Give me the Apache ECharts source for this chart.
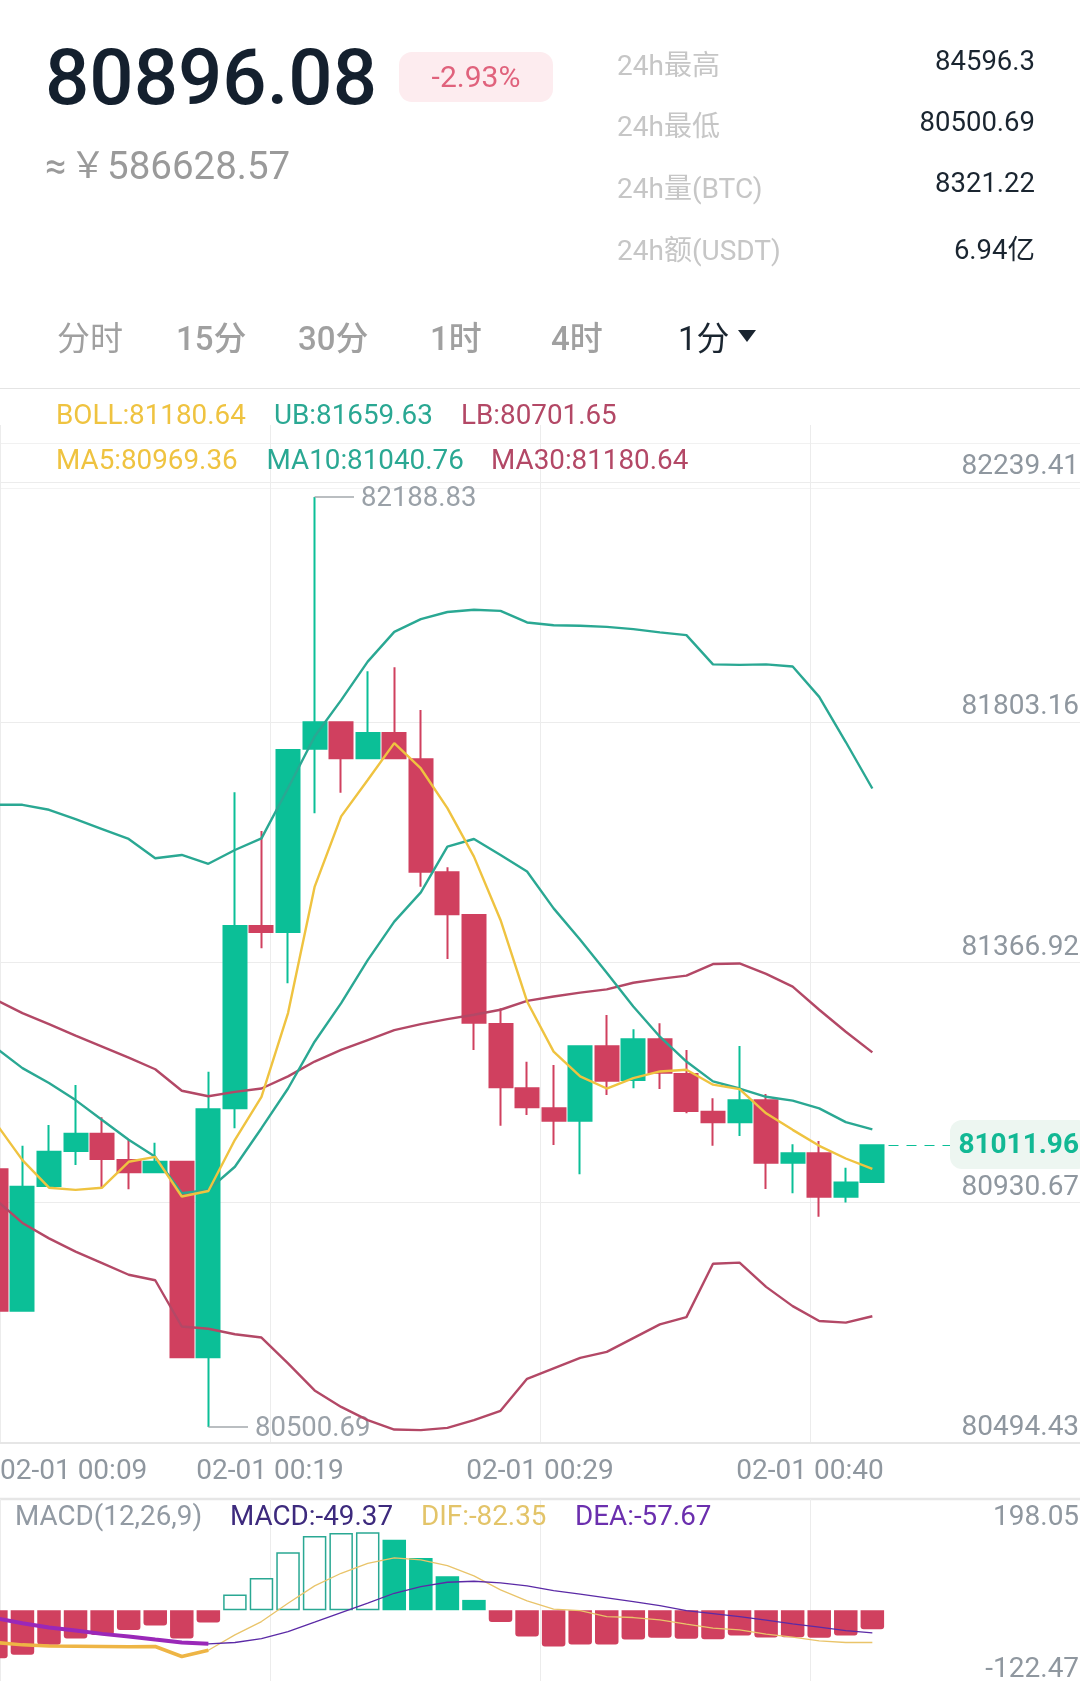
<!DOCTYPE html>
<html>
<head>
<meta charset="utf-8">
<title>BTC 1分</title>
<style>
html, body { margin: 0; padding: 0; background: #fff; }
#chart { width: 1080px; height: 1681px; }
</style>
<script src="https://cdn.jsdelivr.net/npm/echarts@6/dist/echarts.min.js"></script>
</head>
<body>
<div id="chart"></div>
<script>
var FONT = 'Roboto, "Noto Sans CJK SC", sans-serif';

var categories = ['00:09','00:10','00:11','00:12','00:13','00:14','00:15','00:16','00:17','00:18','00:19','00:20','00:21','00:22',
    '00:23','00:24','00:25','00:26','00:27','00:28','00:29','00:30','00:31','00:32','00:33','00:34','00:35','00:36','00:37','00:38',
    '00:39','00:40','00:41','00:42','00:43','00:44','00:45','00:46','00:47','00:48','00:49','00:50'];

var timeLabels = ['02-01 00:09', '02-01 00:19', '02-01 00:29', '02-01 00:40', ''];
var priceTicks = [80494.43, 80930.67, 81366.92, 81803.16, 82239.41];
var macdTicks = [-122.47, 198.05];

// K线
var opens = [80968.5, 80711.8, 80938.2, 81001.7, 81033.1, 80985.4, 80963, 80982.3, 80627.2, 81079.2, 81410.1, 81399.2, 81732, 81779.9, 81714.5, 81760.5, 81712.7,
    81507.6, 81430.1, 81232.2, 81115.5, 81079.2, 81056.7, 81191.7, 81130.6, 81204.5, 81141.5, 81073, 81053.8, 81093.7, 80980.5, 80997.5, 80918.7, 80945.4];
var closes = [80711.8, 80936.9, 81000.4, 81033.1, 80987.2, 80963, 80982.3, 80627.2, 81077.4, 81410.1, 81399.2, 81729.6, 81779.9, 81714.5, 81760.5, 81714.5, 81508.7,
    81431.4, 81234.6, 81117.3, 81081, 81056.7, 81191.7, 81129.3, 81204.5, 81143.8, 81074.3, 81053.8, 81093.7, 80980.5, 80997.5, 80918.7, 80944.2, 81011.96];
var lows = [80711.8, 80711.8, 80938.2, 80976.3, 80935.8, 80932.2, 80963, 80627.2, 80500.69, 81042.9, 81369.6, 81306.1, 81614.7, 81652.1, 81714.5, 81714.5, 81481.5,
    81350.2, 81185, 81047.6, 81067, 81012.6, 80959.4, 81103.3, 81115.5, 81114.2, 81070.1, 81011.3, 81028.9, 80932.7, 80924.9, 80882.4, 80907.9, 80945.4];
var highs = [80968.5, 81011.3, 81048.9, 81121.5, 81062.9, 81022.9, 81016.8, 80982.3, 81145.6, 81652.8, 81582.6, 81729.6, 82188.83, 81779.9, 81872.5, 81879.7, 81802.2,
    81516.7, 81430.1, 81260.7, 81163.8, 81157.8, 81191.7, 81248.6, 81222.6, 81233.5, 81185, 81097.4, 81192.3, 81105.2, 81013.9, 81019.8, 80971.4, 81011.96];

// 均线和布林带
var ma5 = [81052, 80985, 80935, 80931, 80935, 80982, 80991, 80919, 80929, 81022, 81100, 81252, 81481, 81609, 81675, 81742, 81696,
    81624, 81536, 81421, 81273, 81182, 81137, 81115, 81134, 81146, 81149, 81122, 81114, 81070, 81040, 81011, 80988, 80969.36];
var ma10 = [81189, 81152, 81125, 81094, 81058, 81022, 80991, 80925, 80931, 80973, 81043, 81115, 81200, 81270, 81348, 81418, 81471,
    81554, 81568, 81539, 81509, 81442, 81385, 81325, 81264, 81209, 81164, 81128, 81115, 81100, 81093, 81079, 81054, 81040.76];
var ma30 = [81276, 81252, 81232, 81211, 81191, 81171, 81150, 81111, 81101, 81109, 81115, 81137, 81164, 81185, 81203, 81221, 81232,
    81241, 81249, 81258, 81274, 81282, 81289, 81295, 81307, 81314, 81320, 81341, 81342, 81323, 81300, 81258, 81218, 81180.64];
var upperBand = [81630, 81630, 81621, 81604, 81586, 81568, 81533, 81539, 81523, 81548, 81569, 81660, 81754, 81820, 81890, 81944, 81967,
    81980, 81984, 81982, 81961, 81956, 81955, 81953, 81949, 81943, 81938, 81885, 81884, 81885, 81881, 81826, 81744, 81659.63];
var lowerBand = [80913, 80871, 80843, 80819, 80798, 80777, 80767, 80683, 80679, 80669, 80663, 80616, 80567, 80537, 80513, 80496, 80495,
    80499, 80513, 80530, 80588, 80607, 80626, 80637, 80662, 80687, 80700, 80797, 80799, 80755, 80720, 80693, 80690, 80701.65];

// MACD
var macdBars = [-85.4, -79.5, -61.7, -50.4, -43.9, -35, -27.3, -50.4, -21.9, 27.9, 57.5, 103.2, 132.2, 137.6, 138.8, 125.7, 93.1,
    60.5, 18.4, -20.8, -46.8, -64.6, -61.1, -61.1, -52.2, -49.2, -51, -51.6, -45.1, -48.6, -48, -49.2, -45.1, -33.8];
var difLine = [-57.5, -61.7, -63.5, -64, -64.6, -65.2, -64.6, -82.4, -71.2, -43.9, -20.2, 12.5, 43.3, 65.8, 83.6, 93.1, 89.5,
    79.5, 61.1, 36.2, 16.6, 1.8, -0.6, -11.3, -13, -17.2, -24.9, -32, -35, -42.7, -48, -54.6, -57.5, -57.5];
var deaLine = [-14.2, -23.1, -30.8, -36.2, -42.1, -46.8, -52.2, -57.5, -59.9, -57.5, -50.4, -38, -21.3, -4.2, 12.5, 30.2, 42.1,
    49.8, 51.6, 48.6, 43.3, 35, 28.5, 21.9, 15.4, 8.3, -0.6, -5.9, -11.3, -17.8, -24.3, -30.2, -36.2, -40.3];

var GREEN = '#0bbf97';
var RED = '#d0405f';
var LINE_GREEN = '#2aa893';
var LINE_RED = '#b34866';
var YELLOW = '#efc340';
var GRID = '#ececec';
var AXIS_TEXT = '#8f979f';

var lastPrice = closes[closes.length - 1];
var highest = Math.max.apply(Math, highs);
var lowest = Math.min.apply(Math, lows);

/*
  文字，全部放到画布上
 */
var txt = function(x, y, text, color, size, align, weight) {
    return {
        type: 'text',
        silent: true,
        z: 100,
        style: {
            x: x,
            y: y + size * 0.12,
            text: text,
            fill: color,
            font: (weight || 400) + ' ' + size + 'px ' + FONT,
            textAlign: align || 'left',
            textVerticalAlign: 'middle'
        }
    };
};

var rule = function(y, color, width) {
    return {
        type: 'line',
        silent: true,
        shape: { x1: 0, y1: y, x2: 1080, y2: y },
        style: { stroke: color, lineWidth: width }
    };
};

var graphics = [
    rule(388.5, '#e4e4e4', 1),
    rule(443.5, '#f1f1f1', 1),
    rule(488.5, '#f3f3f3', 1),
    rule(1499, '#e6e6e6', 2.5),
    txt(45, 75, '80896.08', '#14202e', 78, 'left', 500),
    {
        type: 'rect',
        silent: true,
        shape: { x: 399, y: 52, width: 154, height: 50, r: 13 },
        style: { fill: '#fdecef' }
    },
    txt(476, 76, '-2.93%', '#e0627c', 30, 'center'),
    txt(45, 165, '≈', '#9a9a9a', 38),
    txt(70, 165, '￥', '#9a9a9a', 36),
    txt(107, 165, '586628.57', '#9a9a9a', 38.5),

    txt(617, 65, '24h最高', '#c6c6c6', 28),
    txt(617, 126, '24h最低', '#c6c6c6', 28),
    txt(617, 188, '24h量(BTC)', '#c6c6c6', 28),
    txt(617, 250, '24h额(USDT)', '#c6c6c6', 28),
    txt(1035, 60, '84596.3', '#1a2530', 27.5, 'right'),
    txt(1035, 121, '80500.69', '#1a2530', 27.5, 'right'),
    txt(1035, 182, '8321.22', '#1a2530', 27.5, 'right'),
    txt(1035, 249, '6.94亿', '#1a2530', 27.5, 'right'),

    txt(57, 338, '分时', '#a0a0a0', 33),
    txt(176, 338, '15分', '#a0a0a0', 33, 'left', 500),
    txt(298, 338, '30分', '#a0a0a0', 33, 'left', 500),
    txt(430, 338, '1时', '#a0a0a0', 33, 'left', 500),
    txt(551, 338, '4时', '#a0a0a0', 33, 'left', 500),
    txt(678, 338, '1分', '#1a2530', 33),
    {
        type: 'polygon',
        silent: true,
        shape: { points: [[738, 330], [756, 330], [747, 342]] },
        style: { fill: '#1a2530' }
    },

    txt(56, 414, 'BOLL:81180.64', YELLOW, 27.8),
    txt(274, 414, 'UB:81659.63', LINE_GREEN, 27.8),
    txt(461, 414, 'LB:80701.65', LINE_RED, 27.8),
    txt(56, 459, 'MA5:80969.36', YELLOW, 27.8),
    txt(266.5, 459, 'MA10:81040.76', LINE_GREEN, 27.8),
    txt(491, 459, 'MA30:81180.64', LINE_RED, 27.8),

    {
        type: 'rect',
        silent: true,
        z: 99,
        shape: { x: 950, y: 1120, width: 140, height: 49, r: 12 },
        style: { fill: '#edf6f1' }
    },
    txt(1079, 1143, String(lastPrice), '#12b894', 28, 'right', 700),

    txt(15, 1515, 'MACD(12,26,9)', '#929aa3', 27.8),
    txt(230, 1515, 'MACD:-49.37', '#3d2a7d', 27.8),
    txt(421, 1515, 'DIF:-82.35', '#e3c469', 27.8),
    txt(575, 1515, 'DEA:-57.67', '#6b2fae', 27.8)
];

var lineSeries = function(name, data, color, width, xIndex, yIndex) {
    return {
        name: name,
        type: 'line',
        data: data,
        xAxisIndex: xIndex,
        yAxisIndex: yIndex,
        symbol: 'none',
        clip: false,
        silent: true,
        lineStyle: { color: color, width: width },
        z: 5
    };
};

var macdItems = macdBars.map(function(v, i) {
    // 上涨的红柱是空心的
    var hollow = v > 0 && (i === 0 || v >= macdBars[i - 1]);
    var color = v < 0 ? RED : GREEN;
    return {
        value: v,
        itemStyle: hollow ? {
            color: '#fff',
            borderColor: LINE_GREEN,
            borderWidth: 1.5
        } : {
            color: color,
            borderRadius: v < 0 ? [0, 0, 3, 3] : 0
        }
    };
});

var candleData = opens.map(function(o, i) {
    return [o, closes[i], lows[i], highs[i]];
});

var extremeLine = function(index, value, endX) {
    return [{
        xAxis: index,
        yAxis: value
    }, {
        x: endX,
        yAxis: value,
        lineStyle: { color: '#a3a8ad', width: 1.5, type: 'solid' },
        label: {
            show: true,
            position: 'end',
            distance: 7,
            formatter: String(value),
            color: '#9aa1a8',
            fontSize: 27.5,
            fontFamily: FONT,
            verticalAlign: 'top',
            lineHeight: 4
        }
    }];
};

var option = {
    animation: false,
    backgroundColor: '#fff',
    graphic: { elements: graphics },
    grid: [
        { left: -17.4, top: 469.1, width: 1115.5, height: 961.3, outerBoundsMode: 'none' },
        { left: -17.4, top: 1499, width: 1115.5, height: 180, outerBoundsMode: 'none' },
        { left: 0, top: 425, width: 1080, height: 1018, outerBoundsMode: 'none' },
        { left: 0, top: 1499, width: 1080, height: 182, outerBoundsMode: 'none' }
    ],
    xAxis: [{
        type: 'category',
        gridIndex: 0,
        data: categories,
        axisLine: { show: false },
        axisTick: { show: false },
        axisLabel: { show: false },
        splitLine: { show: false }
    }, {
        type: 'category',
        gridIndex: 1,
        data: categories,
        axisLine: { show: false },
        axisTick: { show: false },
        axisLabel: { show: false },
        splitLine: { show: false }
    }, {
        type: 'value',
        gridIndex: 2,
        min: 0,
        max: 4,
        interval: 1,
        axisLine: { show: true, onZero: false, lineStyle: { color: '#e6e6e6', width: 2 } },
        axisTick: { show: false },
        axisLabel: {
            margin: 15,
            alignMinLabel: 'left',
            color: AXIS_TEXT,
            fontSize: 28,
            fontFamily: FONT,
            formatter: function(v) {
                return timeLabels[v];
            }
        },
        splitLine: { show: true, lineStyle: { color: GRID, width: 1 } }
    }, {
        type: 'value',
        gridIndex: 3,
        min: 0,
        max: 4,
        interval: 1,
        axisLine: { show: false },
        axisTick: { show: false },
        axisLabel: { show: false },
        splitLine: { show: true, lineStyle: { color: GRID, width: 1 } }
    }],
    yAxis: [{
        type: 'value',
        gridIndex: 0,
        position: 'right',
        min: priceTicks[0],
        max: priceTicks[priceTicks.length - 1],
        axisLine: { show: false },
        axisTick: { show: false, customValues: priceTicks },
        axisLabel: {
            inside: true,
            margin: 19,
            customValues: priceTicks,
            color: AXIS_TEXT,
            fontSize: 28,
            lineHeight: 4,
            verticalAlign: 'bottom',
            fontFamily: FONT,
            showMinLabel: true,
            showMaxLabel: true,
            formatter: function(v) {
                return v.toFixed(2);
            }
        },
        splitLine: { show: false }
    }, {
        type: 'value',
        gridIndex: 1,
        position: 'right',
        min: macdTicks[0],
        max: macdTicks[1],
        axisLine: { show: false },
        axisTick: { show: false, customValues: macdTicks },
        axisLabel: {
            inside: true,
            margin: 19,
            customValues: macdTicks,
            color: AXIS_TEXT,
            fontSize: 28,
            fontFamily: FONT,
            verticalAlignMinLabel: 'bottom',
            verticalAlignMaxLabel: 'top',
            rich: {
                top: { color: AXIS_TEXT, fontSize: 28, fontFamily: FONT, lineHeight: 38 },
                low: { color: AXIS_TEXT, fontSize: 28, fontFamily: FONT, lineHeight: 18 }
            },
            formatter: function(v) {
                return '{' + (v > 0 ? 'top' : 'low') + '|' + v.toFixed(2) + '}';
            }
        },
        splitLine: { show: false }
    }, {
        // 背景网格线
        type: 'value',
        gridIndex: 2,
        min: 0,
        max: 4.2372,
        interval: 1,
        axisLine: { show: false },
        axisTick: { show: false },
        axisLabel: { show: false },
        splitLine: { show: true, showMinLine: false, showMaxLine: false, lineStyle: { color: GRID, width: 1 } }
    }, {
        type: 'value',
        gridIndex: 3,
        min: 0,
        max: 1,
        interval: 1,
        axisLine: { show: false },
        axisTick: { show: false },
        axisLabel: { show: false },
        splitLine: { show: false }
    }],
    series: [{
        name: 'K',
        type: 'candlestick',
        xAxisIndex: 0,
        yAxisIndex: 0,
        data: candleData,
        barWidth: 23.5,
        silent: true,
        z: 3,
        itemStyle: {
            color: GREEN,
            color0: RED,
            borderColor: GREEN,
            borderColor0: RED,
            borderWidth: 2
        },
        markLine: {
            silent: true,
            symbol: ['none', 'none'],
            animation: false,
            label: { show: false },
            data: [
                extremeLine(highs.indexOf(highest), highest, 354),
                extremeLine(lows.indexOf(lowest), lowest, 248),
                [{
                    x: 888.5,
                    yAxis: lastPrice
                }, {
                    x: 950,
                    yAxis: lastPrice,
                    lineStyle: { color: GREEN, width: 1.2, type: [10, 8] },
                    label: { show: false }
                }]
            ]
        }
    },
    lineSeries('UB', upperBand, LINE_GREEN, 2.4, 0, 0),
    lineSeries('MA30', ma30, LINE_RED, 2.4, 0, 0),
    lineSeries('LB', lowerBand, LINE_RED, 2.4, 0, 0),
    lineSeries('MA10', ma10, LINE_GREEN, 2.4, 0, 0),
    lineSeries('MA5', ma5, YELLOW, 2.4, 0, 0),
    {
        name: 'MACD',
        type: 'bar',
        xAxisIndex: 1,
        yAxisIndex: 1,
        data: macdItems,
        barWidth: 23.5,
        silent: true,
        z: 3
    },
    lineSeries('DIF', difLine, '#e9c46a', 1.3, 1, 1),
    lineSeries('DEA', deaLine, '#5b2aa6', 1.3, 1, 1),
    // 左边一段线更粗
    lineSeries('DIF2', difLine.slice(0, 9), '#eeb545', 3.5, 1, 1),
    lineSeries('DEA2', deaLine.slice(0, 9), '#9a28b8', 4, 1, 1)]
};

var myChart = echarts.init(document.getElementById('chart'));
myChart.setOption(option);
</script>
</body>
</html>
